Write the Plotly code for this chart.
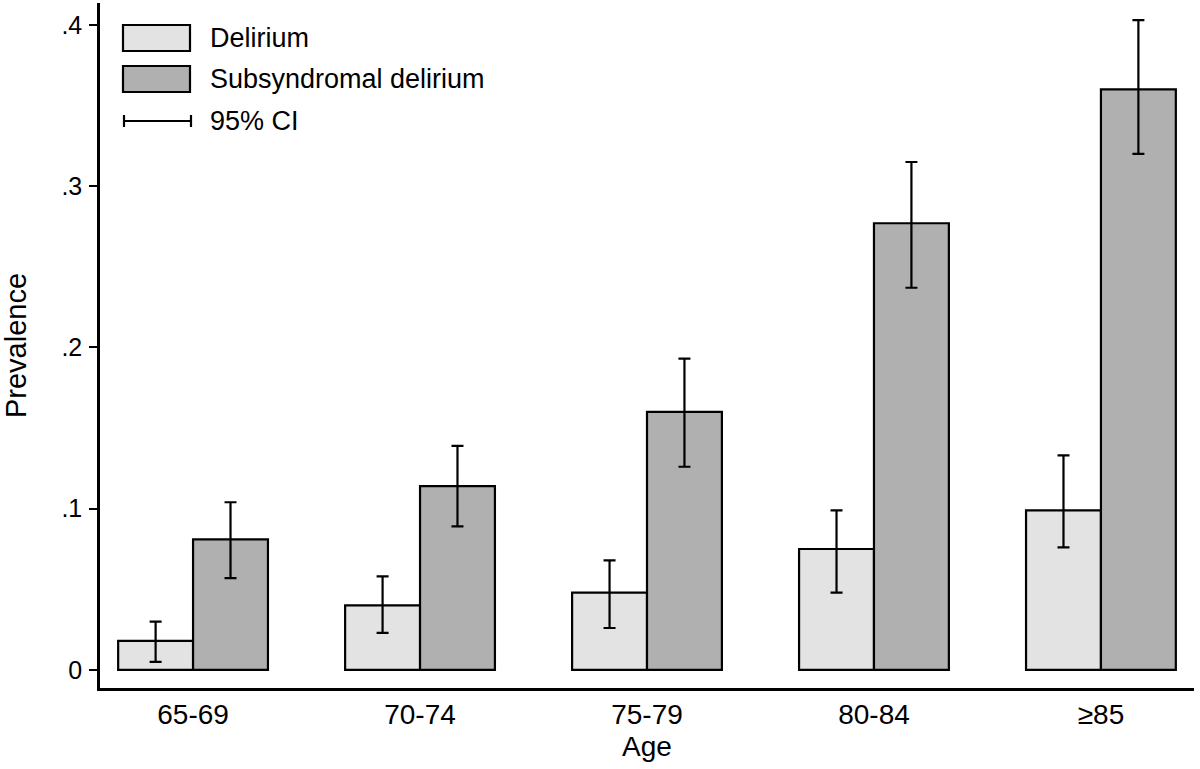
import plotly.graph_objects as go

# age groups and prevalence estimates
age_groups = ["65-69", "70-74", "75-79", "80-84", "≥85"]

delirium = [0.018, 0.040, 0.048, 0.075, 0.099]
delirium_lo = [0.005, 0.023, 0.026, 0.048, 0.076]
delirium_hi = [0.030, 0.058, 0.068, 0.099, 0.133]

subsyndromal = [0.081, 0.114, 0.160, 0.277, 0.360]
subsyndromal_lo = [0.057, 0.089, 0.126, 0.237, 0.320]
subsyndromal_hi = [0.104, 0.139, 0.193, 0.315, 0.403]

y_ticks = [0, 0.1, 0.2, 0.3, 0.4]
y_tick_text = ["0", ".1", ".2", ".3", ".4"]

FONT = "Arial, Liberation Sans, sans-serif"
W, H = 1200, 769
M_L, M_R, M_T, M_B = 100, 6, 3, 81


def px_x(x):
    return (x - M_L) / (W - M_L - M_R)


def px_y(y):
    return (H - M_B - y) / (H - M_T - M_B)


def err(vals, lo, hi):
    return dict(type="data", symmetric=False,
                array=[h - v for v, h in zip(vals, hi)],
                arrayminus=[v - l for v, l in zip(vals, lo)],
                color="black", thickness=2.2, width=6)


fig = go.Figure()
fig.add_trace(go.Bar(
    x=age_groups, y=delirium, name="Delirium",
    marker=dict(color="#e3e3e3", line=dict(color="black", width=2.2)),
    error_y=err(delirium, delirium_lo, delirium_hi),
))
fig.add_trace(go.Bar(
    x=age_groups, y=subsyndromal, name="Subsyndromal delirium",
    marker=dict(color="#b0b0b0", line=dict(color="black", width=2.2)),
    error_y=err(subsyndromal, subsyndromal_lo, subsyndromal_hi),
))

# hand-drawn legend (Stata style) in the top left corner
shapes = []
annotations = []
legend_rows = [("Delirium", "#e3e3e3", 38), ("Subsyndromal delirium", "#b0b0b0", 79)]
for label, col, cy in legend_rows:
    shapes.append(dict(type="rect", xref="paper", yref="paper",
                       x0=px_x(123), x1=px_x(190), y0=px_y(cy - 13), y1=px_y(cy + 13),
                       fillcolor=col, line=dict(color="black", width=2.2)))
    annotations.append(dict(text=label, xref="paper", yref="paper", x=px_x(208), y=px_y(cy),
                            xanchor="left", yanchor="middle", showarrow=False,
                            font=dict(size=27, family=FONT, color="black")))
ci_y = 121
shapes.append(dict(type="line", xref="paper", yref="paper", x0=px_x(124), x1=px_x(191),
                   y0=px_y(ci_y), y1=px_y(ci_y), line=dict(color="black", width=2.2)))
for cx in (124, 191):
    shapes.append(dict(type="line", xref="paper", yref="paper", x0=px_x(cx), x1=px_x(cx),
                       y0=px_y(ci_y - 6), y1=px_y(ci_y + 6), line=dict(color="black", width=2.2)))
annotations.append(dict(text="95% CI", xref="paper", yref="paper", x=px_x(208), y=px_y(ci_y),
                        xanchor="left", yanchor="middle", showarrow=False,
                        font=dict(size=27, family=FONT, color="black")))

fig.update_layout(
    width=W, height=H,
    margin=dict(l=M_L, r=M_R, t=M_T, b=M_B),
    barmode="group", bargap=0.34, bargroupgap=0,
    showlegend=False,
    plot_bgcolor="white", paper_bgcolor="white",
    font=dict(family=FONT, color="black"),
    shapes=shapes, annotations=annotations,
    xaxis=dict(
        range=[-0.41, 4.41],
        showline=True, linecolor="black", linewidth=2.5,
        ticks="", showgrid=False, zeroline=False,
        tickfont=dict(size=28, family=FONT, color="black"),
        ticklabelstandoff=0,
        title=dict(text="Age", font=dict(size=28, family=FONT, color="black"), standoff=8),
    ),
    yaxis=dict(
        range=[-0.0112, 0.4136],
        showline=True, linecolor="black", linewidth=2.5,
        ticks="outside", ticklen=8, tickwidth=2, tickcolor="black",
        tickvals=y_ticks, ticktext=y_tick_text,
        showgrid=False, zeroline=False,
        tickfont=dict(size=25, family=FONT, color="black"),
        ticklabelstandoff=2,
        title=dict(text="Prevalence", font=dict(size=29, family=FONT, color="black"), standoff=27),
    ),
)

# drop the default page margin so the figure sits at the window's corner
fig.write_html("out.html", config={"displayModeBar": False},
               post_script="document.body.style.margin='0';")
